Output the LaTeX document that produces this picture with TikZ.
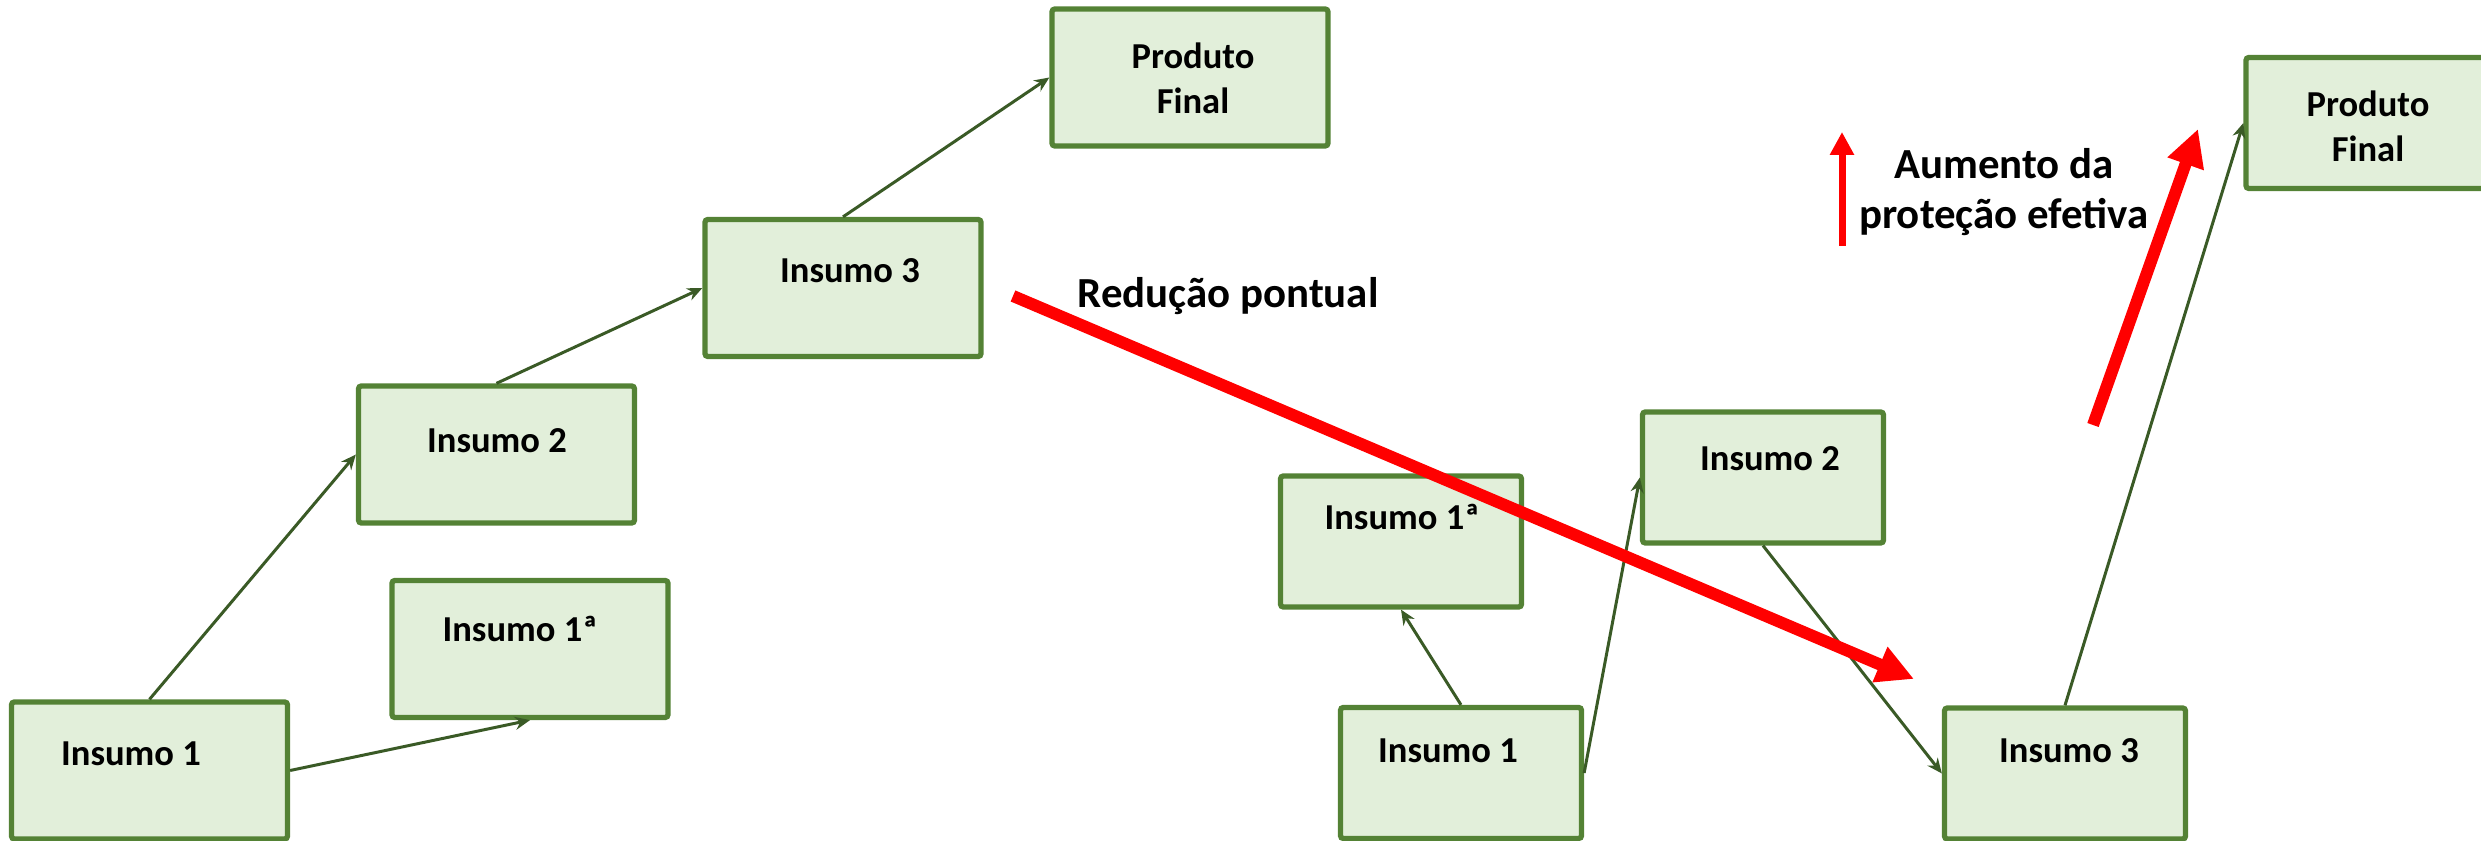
\documentclass[tikz,border=0pt]{standalone}
\usepackage{fontspec}
\setmainfont{Carlito}
\usepackage{tikz}
\usetikzlibrary{arrows.meta}
\definecolor{boxfill}{HTML}{E2EFDA}
\definecolor{boxline}{HTML}{548235}
\definecolor{linkgreen}{HTML}{3A5A26}
\tikzstyle{lbox} = [draw=boxline,fill=boxfill,line width=1.5pt,rounded corners=0.8pt,minimum width=2.76cm,minimum height=1.37cm,inner sep=0pt]
\tikzstyle{rbox} = [lbox,minimum width=2.41cm,minimum height=1.31cm]
\tikzstyle{lbl} = [font=\fontsize{10.4}{12.8}\selectfont\bfseries,inner sep=0pt,anchor=base,align=center]
\tikzstyle{note} = [font=\fontsize{12.2}{14.2}\selectfont\bfseries,inner sep=0pt,align=center]
\tikzstyle{arrow} = [linkgreen,line width=0.85pt,-{Stealth[length=1.5mm,width=1.3mm]}]
\tikzstyle{redarrow} = [red,line width=0.12cm,-{Triangle[length=0.37cm,width=0.36cm]}]

\begin{document}
\begin{tikzpicture}
\useasboundingbox (0,0) rectangle (24.81,-8.41);

\node[lbox] (l1) at (1.495,-7.705) {};
\node[lbox] (l1a) at (5.30,-6.49) {};
\node[lbox] (l2) at (4.965,-4.545) {};
\node[lbox] (l3) at (8.43,-2.88) {};
\node[lbox] (lpf) at (11.90,-0.775) {};

\node[lbl] (tl1) at (1.31,-7.66) {Insumo 1};
\node[lbl] (tl1a) at (5.20,-6.42) {Insumo 1ª};
\node[lbl] (tl2) at (4.97,-4.53) {Insumo 2};
\node[lbl] (tl3) at (8.50,-2.83) {Insumo 3};
\node[lbl,anchor=center] (tlpf) at (11.93,-0.785) {Produto\\Final};

\node[rbox] (r1a) at (14.01,-5.415) {};
\node[rbox] (r1) at (14.61,-7.73) {};
\node[rbox] (r2) at (17.63,-4.775) {};
\node[rbox] (r3) at (20.65,-7.735) {};
\node[rbox] (rpf) at (23.665,-1.23) {};

\node[lbl] (tr1a) at (14.02,-5.30) {Insumo 1ª};
\node[lbl] (tr1) at (14.48,-7.63) {Insumo 1};
\node[lbl] (tr2) at (17.70,-4.71) {Insumo 2};
\node[lbl] (tr3) at (20.69,-7.63) {Insumo 3};
\node[lbl,anchor=center] (trpf) at (23.68,-1.26) {Produto\\Final};

\draw[arrow] (l1.north) -- (l2.west);
\draw[arrow] (l1.east) -- (l1a.south);
\draw[arrow] (l2.north) -- (l3.west);
\draw[arrow] (l3.north) -- (lpf.west);

\draw[arrow] (r1.north) -- (r1a.south);
\draw[arrow] (r1.east) -- (r2.west);
\draw[arrow] (r2.south) -- (r3.west);
\draw[arrow] (r3.north) -- (rpf.west);

\coordinate (redA) at (10.13,-2.96);
\coordinate (redB) at (19.14,-6.79);
\coordinate (upA) at (20.93,-4.25);
\coordinate (upB) at (21.98,-1.29);
\coordinate (smallA) at (18.42,-2.46);
\coordinate (smallB) at (18.42,-1.32);
\draw[redarrow] (redA) -- (redB);
\draw[redarrow] (upA) -- (upB);
\draw[red,line width=0.07cm,-{Triangle[length=0.23cm,width=0.23cm]}] (smallA) -- (smallB);

\node[note,anchor=base] (reduc) at (12.28,-3.08) {Redução pontual};
\node[note] (aument) at (20.04,-1.925) {Aumento da\\proteção efetiva};
\end{tikzpicture}
\end{document}
